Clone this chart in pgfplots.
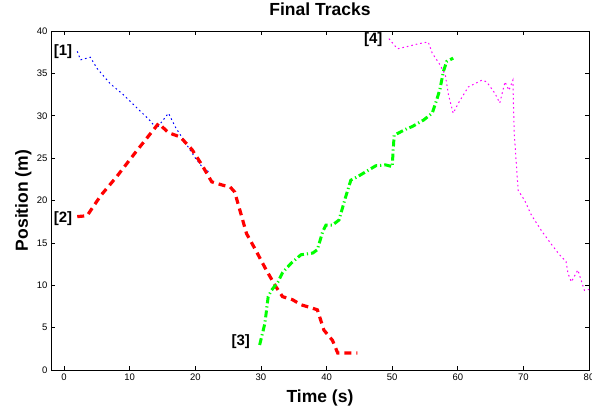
\documentclass[border=0pt]{standalone}
\usepackage{pgfplots}
\pgfplotsset{compat=1.18}
\usepackage{fontspec}
\setmainfont{Liberation Sans}
\usetikzlibrary{calc}
\definecolor{mblue}{rgb}{0,0,1}
\definecolor{mred}{rgb}{1,0,0}
\definecolor{mgreen}{rgb}{0,1,0}
\definecolor{mmag}{rgb}{1,0,1}
\begin{document}
\begin{tikzpicture}
\begin{axis}[
  scale only axis,
  width=538bp, height=339bp,
  xmin=-2, xmax=80, ymin=0, ymax=40,
  xtick={0,10,...,80}, ytick={0,5,...,40},
  tick align=inside,
  major tick length=4bp,
  axis line style={line width=0.9pt},
  tick style={line width=0.6pt,black},
  ticklabel style={font=\fontsize{9.5bp}{11bp}\selectfont},
  /pgf/number format/assume math mode=true,
  title={\textbf{Final Tracks}},
  title style={font=\fontsize{17.5bp}{20bp}\selectfont, at={(axis description cs:0.5,1)}, anchor=base, yshift=10bp, inner sep=0pt},
  xlabel={\textbf{Time (s)}},
  ylabel={\textbf{Position (m)}},
  every axis x label/.style={font=\fontsize{17.5bp}{20bp}\selectfont, at={(axis description cs:0.5,0)}, anchor=base, yshift=-32bp, inner sep=0pt},
  every axis y label/.style={font=\fontsize{17.5bp}{20bp}\selectfont, at={(axis description cs:0,0.5)}, anchor=base, rotate=90, yshift=23bp, inner sep=0pt},
  clip mode=individual,
]
% Track 1 (blue dotted)
\addplot[mblue, line width=1pt, dash pattern=on 1.6pt off 3pt] coordinates {
(2,37.6) (2.5,36.6) (4,36.9) (5,35.6) (7,33.8) (9,32.5) (11,31) (13,29.5) (14.1,28.5) (15.9,30.3) (17,28.6) (18,27.4) (19,26.2) (20,25) (21,24) (22,23.4)
};
% Track 2 (red dashed)
\addplot[mred, line width=3.2pt, dash pattern=on 7pt off 5pt] coordinates {
(2,18.1) (3.5,18.2) (5.6,20.6) (8,22.8) (11,25.8) (14.4,29.1) (15.9,28) (17.7,27.5) (19.5,26) (21,24.2) (22.5,22.2) (24.2,21.8) (25.3,21.6) (26,21) (27.8,16.1) (29.3,14) (30.8,11.8) (32.3,9.8) (33.3,8.65) (34.8,8.3) (36.1,7.7) (37.6,7.35) (38.6,7.1) (39.6,4.7) (40.9,3.5) (41.7,2) (44.7,2)
};
% Track 3 (green dash-dot)
\addplot[mgreen, line width=3pt, dash pattern=on 7pt off 3pt on 1.2pt off 3pt] coordinates {
(29.8,2.95) (30.6,5.5) (31.1,8.65) (31.6,9.4) (32.6,10.4) (33.3,11.5) (34.6,12.6) (36.1,13.6) (37.9,13.8) (38.6,14.2) (39.4,16.3) (39.9,17.1) (40.9,17.1) (41.9,17.7) (42.9,20.4) (43.7,22.4) (44.7,22.8) (46,23.4) (47.5,24.1) (49,24.2) (50,24) (50.3,27.7) (52.3,28.5) (53,28.7) (54.8,29.5) (56.1,30.3) (56.8,31.9) (57.3,33.2) (57.8,35.2) (58.3,36.4) (59.3,36.8)
};
% Track 4 (magenta dotted)
\addplot[mmag, line width=1pt, dash pattern=on 1.6pt off 3pt] coordinates {
(49.5,39.1) (50.8,37.9) (52.5,38.2) (54,38.5) (55.5,38.7) (56.1,37.4) (57.3,36) (58.1,34.8) (58.6,32.4) (59.3,30.3) (60.1,31.5) (61.6,33.4) (63.7,34.2) (64.4,34) (65.7,32.6) (66.4,31.5) (67.2,34) (67.8,33) (68.4,34.2) (68.6,28) (69.2,21.2) (70.2,20) (71.2,18.3) (72.7,16.5) (74.2,14.9) (75.5,13.6) (76.5,12.8) (76.8,11.4) (77.3,10.4) (78.3,11.8) (78.8,10.6) (79.3,9.4) (80,9.5)
};
\node[anchor=east, inner sep=1pt, font=\fontsize{15bp}{17bp}\selectfont\bfseries] at (axis cs:1.4,37.6) {[1]};
\node[anchor=east, inner sep=1pt, font=\fontsize{15bp}{17bp}\selectfont\bfseries] at (axis cs:1.4,17.9) {[2]};
\node[anchor=east, inner sep=1pt, font=\fontsize{15bp}{17bp}\selectfont\bfseries] at (axis cs:28.5,3.3) {[3]};
\node[anchor=east, inner sep=1pt, font=\fontsize{15bp}{17bp}\selectfont\bfseries] at (axis cs:48.7,39.0) {[4]};
\end{axis}
\pgfresetboundingbox
\path[use as bounding box] ($(current axis.south west)+(-51bp,-37bp)$) rectangle ($(current axis.north east)+(3bp,31bp)$);
\end{tikzpicture}
\end{document}
